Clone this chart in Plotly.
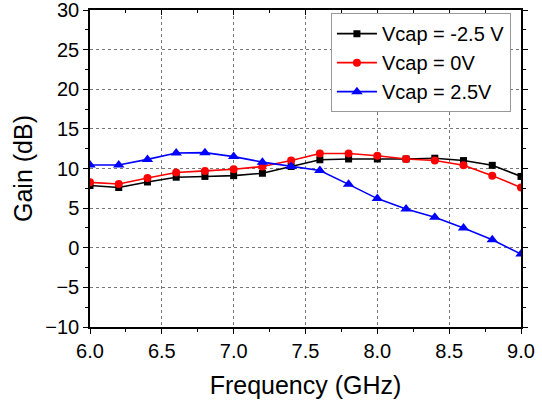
import plotly.graph_objects as go

freq = [6.0, 6.2, 6.4, 6.6, 6.8, 7.0, 7.2, 7.4, 7.6, 7.8, 8.0, 8.2, 8.4, 8.6, 8.8, 9.0]
gain_m25 = [7.85, 7.6, 8.3, 8.9, 9.0, 9.1, 9.4, 10.25, 11.1, 11.2, 11.2, 11.2, 11.3, 11.0, 10.4, 9.0]
gain_0 = [8.25, 8.05, 8.8, 9.5, 9.7, 9.9, 10.25, 11.0, 11.9, 11.9, 11.6, 11.2, 11.0, 10.4, 9.1, 7.6]
gain_p25 = [10.45, 10.45, 11.15, 11.95, 12.0, 11.5, 10.8, 10.25, 9.75, 8.0, 6.2, 4.9, 3.85, 2.5, 1.0, -0.8]
names = ["Vcap = -2.5 V", "Vcap = 0V", "Vcap = 2.5V"]

font_family = "Arial, Liberation Sans, sans-serif"

fig = go.Figure()
series = [
    (gain_m25, "black", "square", 7),
    (gain_0, "red", "circle", 8),
    (gain_p25, "blue", "triangle-up", 10),
]
for (vals, col, sym, sz), nm in zip(series, names):
    fig.add_trace(go.Scatter(
        x=freq, y=vals, name=nm, mode="lines+markers",
        line=dict(color=col, width=1.6),
        marker=dict(color=col, symbol=sym, size=sz),
    ))

# invisible trace for top axis ticks
fig.add_trace(go.Scatter(x=[6.0], y=[0], xaxis="x2", showlegend=False,
                         mode="markers", marker=dict(opacity=0), hoverinfo="skip"))

axis_common = dict(
    showline=True, linecolor="black", linewidth=1.5,
    ticks="outside", ticklen=5, tickwidth=1.2, tickcolor="black",
    showgrid=True, gridcolor="#777777", griddash="dot", gridwidth=1,
    zeroline=False, automargin=False, ticklabeloverflow="allow",
    tickfont=dict(family=font_family, size=20, color="black"),
)

fig.update_layout(
    width=542, height=404,
    margin=dict(l=90, r=21, t=10, b=77),
    paper_bgcolor="white", plot_bgcolor="white",
    font=dict(family=font_family, color="black"),
    xaxis=dict(
        range=[6.0, 9.0], dtick=0.5, tickformat=".1f",
        minor=dict(dtick=0.25, ticks="outside", ticklen=3, tickcolor="black", showgrid=False),
        mirror=True,
        title=dict(text="Frequency (GHz)", font=dict(family=font_family, size=25), standoff=16),
        **axis_common,
    ),
    xaxis2=dict(
        overlaying="x", side="top", range=[6.0, 9.0], dtick=0.5,
        ticks="inside", ticklen=5, tickcolor="black", showticklabels=False,
        minor=dict(dtick=0.25, ticks="inside", ticklen=3, tickcolor="black"),
        showgrid=False, zeroline=False, showline=False, automargin=False,
    ),
    yaxis=dict(
        range=[-10, 30], dtick=5,
        minor=dict(dtick=2.5, ticks="outside", ticklen=3, tickcolor="black", showgrid=False),
        mirror="ticks",
        title=dict(text="Gain (dB)", font=dict(family=font_family, size=25), standoff=6),
        **axis_common,
    ),
    legend=dict(
        x=0.559, y=0.99, xanchor="left", yanchor="top",
        bgcolor="white", bordercolor="#999999", borderwidth=1,
        font=dict(family=font_family, size=20, color="black"),
        tracegroupgap=0, itemwidth=40,
    ),
)

fig.write_html("out.html", config={"displayModeBar": False},
               post_script="document.body.style.margin='0';")
